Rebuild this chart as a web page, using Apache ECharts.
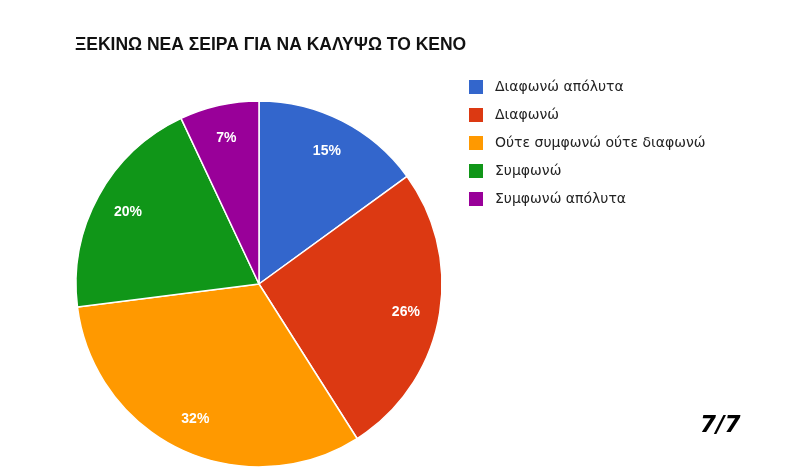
<!DOCTYPE html>
<html>
<head>
<meta charset="utf-8">
<script src="https://cdn.jsdelivr.net/npm/echarts@6/dist/echarts.min.js"></script>
<style>
html,body{margin:0;padding:0;background:#fff;}
#main{width:790px;height:474px;}
</style>
</head>
<body>
<div id="main"></div>
<script>
// απαντήσεις και ποσοστά
var categories = ['Διαφωνώ απόλυτα', 'Διαφωνώ', 'Ούτε συμφωνώ ούτε διαφωνώ', 'Συμφωνώ', 'Συμφωνώ απόλυτα'];
var values = [15, 26, 32, 20, 7];
var colors = ['#3366cc', '#dc3912', '#ff9900', '#109618', '#990099'];

var pieData = [];
for (var i = 0; i < categories.length; i++) {
	pieData.push({name: categories[i], value: values[i]});
}

var myChart = echarts.init(document.getElementById('main'));
myChart.setOption({
	backgroundColor: '#fff',
	color: colors,
	animation: false,
	title: {
		text: 'ΞΕΚΙΝΩ ΝΕΑ ΣΕΙΡΑ ΓΙΑ ΝΑ ΚΑΛΥΨΩ ΤΟ ΚΕΝΟ',
		left: 70,
		top: 31,
		textStyle: {
			fontFamily: 'Liberation Sans',
			fontSize: 17.5,
			fontWeight: 'bold',
			color: '#111'
		}
	},
	legend: {
		orient: 'vertical',
		left: 462,
		top: 73,
		icon: 'rect',
		itemWidth: 16,
		itemHeight: 16,
		itemGap: 10,
		data: categories,
		textStyle: {
			fontFamily: 'DejaVu Sans',
			fontSize: 14,
			color: '#222',
			padding: [0, 0, 0, 6]
		}
	},
	graphic: [{
		type: 'text',
		left: 700,
		top: 415,
		style: {
			text: '7/7',
			font: 'italic bold 23px "DejaVu Sans"',
			fill: '#000'
		}
	}],
	series: [{
		type: 'pie',
		center: [259, 284],
		radius: [0, 183],
		startAngle: 90,
		clockwise: true,
		data: pieData,
		label: {show: false},
		labelLine: {show: false},
		itemStyle: {borderColor: '#fff', borderWidth: 1.5},
		emphasis: {disabled: true}
	}, {
		// μόνο οι ετικέτες, πιο έξω
		type: 'pie',
		center: [259, 284],
		radius: [110, 183],
		startAngle: 90,
		clockwise: true,
		silent: true,
		data: pieData,
		itemStyle: {color: 'rgba(0,0,0,0)'},
		label: {
			show: true,
			position: 'inside',
			formatter: '{d}%',
			fontFamily: 'Liberation Sans',
			fontSize: 14,
			fontWeight: 'bold',
			color: '#fff'
		},
		labelLine: {show: false},
		emphasis: {disabled: true}
	}]
});
</script>
</body>
</html>
